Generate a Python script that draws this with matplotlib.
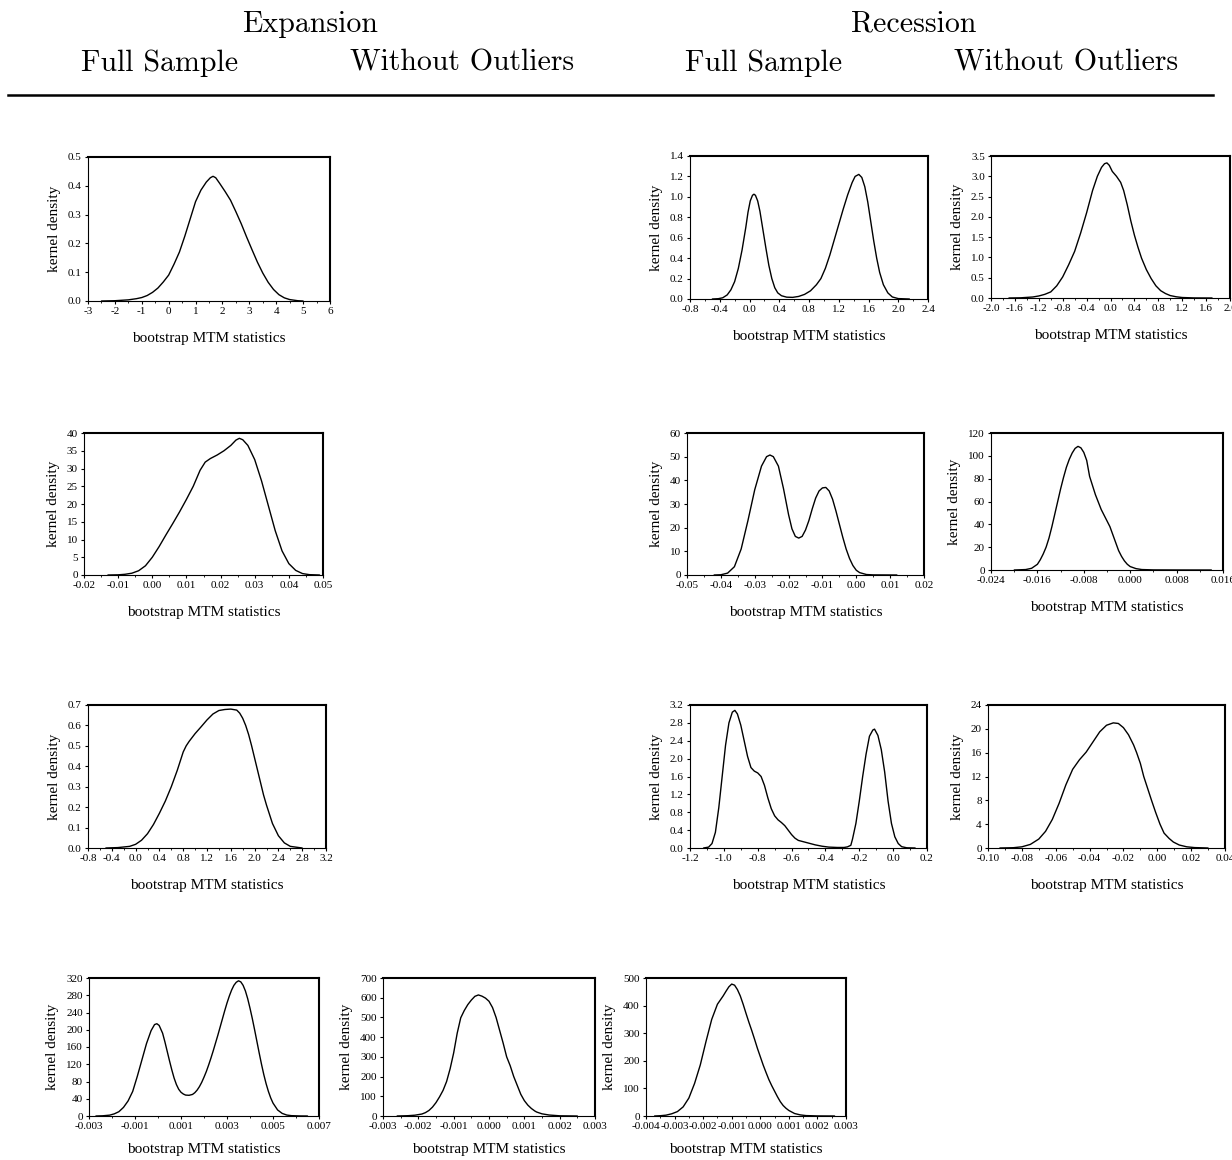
import numpy as np
import matplotlib
matplotlib.use("Agg")
import matplotlib.pyplot as plt

# ---------------- data ----------------
# Expansion, full sample, row 1
a1_x = [-2.5, -2.0, -1.5, -1.2, -1.0, -0.8, -0.6, -0.4, -0.2, 0.0, 0.2, 0.4, 0.6, 0.8, 1.0, 1.2, 1.4,
        1.55, 1.65, 1.75, 1.9, 2.1, 2.3, 2.5, 2.7, 2.9, 3.1, 3.3, 3.5, 3.7, 3.9, 4.1, 4.3, 4.5, 4.8, 5.0]
a1_y = [0.0, 0.001, 0.004, 0.008, 0.012, 0.019, 0.03, 0.045, 0.066, 0.09, 0.128, 0.17, 0.225, 0.285,
        0.345, 0.385, 0.413, 0.428, 0.433, 0.428, 0.408, 0.38, 0.35, 0.31, 0.268, 0.222, 0.178, 0.135,
        0.097, 0.065, 0.04, 0.022, 0.011, 0.005, 0.001, 0.0]
# Recession, full sample, row 1
c1_x = [-0.5, -0.42, -0.36, -0.3, -0.25, -0.2, -0.15, -0.1, -0.05, -0.02, 0.01, 0.04, 0.06, 0.08, 0.11,
        0.14, 0.18, 0.22, 0.26, 0.3, 0.34, 0.38, 0.43, 0.5, 0.58, 0.66, 0.74, 0.82, 0.9, 0.96, 1.02, 1.08,
        1.14, 1.2, 1.26, 1.32, 1.38, 1.42, 1.47, 1.51, 1.55, 1.59, 1.63, 1.67, 1.71, 1.75, 1.8, 1.86, 1.92,
        2.0, 2.15]
c1_y = [0.0, 0.003, 0.012, 0.04, 0.09, 0.17, 0.3, 0.48, 0.7, 0.85, 0.96, 1.015, 1.026, 1.015, 0.96, 0.86,
        0.68, 0.5, 0.33, 0.2, 0.11, 0.06, 0.032, 0.018, 0.016, 0.025, 0.045, 0.08, 0.14, 0.2, 0.3, 0.43,
        0.58, 0.73, 0.88, 1.02, 1.14, 1.2, 1.22, 1.19, 1.1, 0.95, 0.76, 0.57, 0.4, 0.26, 0.14, 0.06, 0.02,
        0.004, 0.0]
# Recession, without outliers, row 1
d1_x = [-1.7, -1.5, -1.3, -1.2, -1.1, -1.0, -0.9, -0.8, -0.7, -0.6, -0.5, -0.4, -0.3, -0.22, -0.15, -0.1,
        -0.06, -0.02, 0.03, 0.1, 0.17, 0.22, 0.28, 0.34, 0.4, 0.46, 0.52, 0.6, 0.68, 0.76, 0.84, 0.92, 1.0,
        1.1, 1.2, 1.4, 1.7]
d1_y = [0.0, 0.005, 0.025, 0.05, 0.09, 0.15, 0.3, 0.52, 0.82, 1.15, 1.6, 2.1, 2.65, 3.0, 3.22, 3.31, 3.33,
        3.27, 3.12, 3.0, 2.85, 2.65, 2.3, 1.9, 1.55, 1.25, 0.98, 0.7, 0.48, 0.3, 0.18, 0.11, 0.06, 0.03,
        0.012, 0.002, 0.0]
# Expansion, full sample, row 2
a2_x = [-0.013, -0.010, -0.008, -0.006, -0.004, -0.002, 0.0, 0.002, 0.004, 0.006, 0.008, 0.010, 0.012,
        0.014, 0.0155, 0.017, 0.019, 0.021, 0.023, 0.0245, 0.0255, 0.0265, 0.028, 0.030, 0.032, 0.034,
        0.036, 0.038, 0.040, 0.042, 0.044, 0.046, 0.049]
a2_y = [0.0, 0.05, 0.2, 0.5, 1.2, 2.6, 5.0, 8.0, 11.3, 14.5, 17.8, 21.3, 25.0, 29.5, 31.8, 32.8, 33.8,
        35.0, 36.5, 38.0, 38.5, 38.1, 36.5, 32.5, 26.5, 19.5, 12.5, 6.8, 3.2, 1.3, 0.4, 0.1, 0.0]
# Recession, full sample, row 2
c2_x = [-0.042, -0.040, -0.038, -0.036, -0.034, -0.032, -0.030, -0.028, -0.0265, -0.0255, -0.0245,
        -0.023, -0.0215, -0.020, -0.019, -0.018, -0.017, -0.016, -0.015, -0.014, -0.013, -0.012, -0.011,
        -0.010, -0.009, -0.008, -0.007, -0.006, -0.005, -0.004, -0.003, -0.002, -0.001, 0.0, 0.001, 0.003,
        0.005, 0.012]
c2_y = [0.0, 0.1, 0.8, 3.5, 11.0, 23.0, 36.0, 46.0, 50.0, 50.7, 50.0, 46.0, 36.5, 25.5, 19.5, 16.3, 15.6,
        16.3, 19.0, 23.0, 28.0, 32.5, 35.5, 36.8, 37.0, 35.5, 32.0, 27.0, 21.5, 16.0, 11.0, 7.0, 4.0, 2.0,
        1.0, 0.2, 0.05, 0.0]
# Recession, without outliers, row 2
d2_x = [-0.020, -0.018, -0.017, -0.016, -0.0155, -0.015, -0.0145, -0.014, -0.0135, -0.013, -0.0125,
        -0.012, -0.0115, -0.011, -0.0105, -0.010, -0.0095, -0.009, -0.0085, -0.008, -0.0075, -0.007,
        -0.006, -0.005, -0.004, -0.0035, -0.003, -0.0025, -0.002, -0.0015, -0.001, -0.0005, 0.0, 0.001,
        0.002, 0.004, 0.008, 0.014]
d2_y = [0.0, 0.4, 1.5, 5.0, 9.0, 14.0, 20.0, 28.0, 38.0, 49.0, 60.0, 71.0, 81.0, 90.0, 97.0, 102.5,
        106.5, 108.3, 107.0, 103.0, 96.0, 82.0, 66.0, 53.0, 43.0, 38.0, 31.0, 24.0, 17.0, 12.0, 8.0, 5.0,
        3.0, 1.2, 0.4, 0.1, 0.03, 0.0]
# Expansion, full sample, row 3
a3_x = [-0.5, -0.3, -0.1, 0.0, 0.1, 0.2, 0.3, 0.4, 0.5, 0.6, 0.7, 0.8, 0.85, 0.9, 1.0, 1.1, 1.2, 1.3, 1.4,
        1.5, 1.6, 1.7, 1.75, 1.8, 1.85, 1.9, 1.95, 2.0, 2.05, 2.1, 2.15, 2.2, 2.25, 2.3, 2.4, 2.5, 2.6, 2.8]
a3_y = [0.0, 0.002, 0.008, 0.018, 0.038, 0.07, 0.115, 0.17, 0.23, 0.30, 0.38, 0.47, 0.50, 0.522, 0.56,
        0.593, 0.627, 0.656, 0.673, 0.678, 0.68, 0.675, 0.66, 0.635, 0.60, 0.555, 0.50, 0.44, 0.38, 0.32,
        0.26, 0.21, 0.165, 0.12, 0.06, 0.025, 0.008, 0.0]
# Recession, full sample, row 3
c3_x = [-1.12, -1.09, -1.07, -1.05, -1.03, -1.01, -0.99, -0.97, -0.95, -0.935, -0.92, -0.90, -0.88, -0.86,
        -0.84, -0.82, -0.80, -0.78, -0.76, -0.74, -0.72, -0.70, -0.68, -0.66, -0.64, -0.62, -0.60, -0.58,
        -0.56, -0.53, -0.50, -0.46, -0.42, -0.38, -0.33, -0.29, -0.27, -0.25, -0.24, -0.22, -0.20, -0.18,
        -0.16, -0.14, -0.12, -0.11, -0.09, -0.07, -0.05, -0.03, -0.01, 0.01, 0.03, 0.05, 0.08, 0.13]
c3_y = [0.0, 0.02, 0.1, 0.35, 0.9, 1.6, 2.3, 2.8, 3.04, 3.08, 3.0, 2.75, 2.4, 2.05, 1.8, 1.72, 1.68, 1.6,
        1.4, 1.12, 0.88, 0.72, 0.63, 0.57, 0.5, 0.4, 0.3, 0.22, 0.17, 0.14, 0.11, 0.07, 0.04, 0.02, 0.012,
        0.012, 0.025, 0.06, 0.2, 0.55, 1.05, 1.6, 2.1, 2.5, 2.64, 2.66, 2.52, 2.2, 1.7, 1.05, 0.55, 0.25,
        0.1, 0.03, 0.005, 0.0]
# Recession, without outliers, row 3
d3_x = [-0.093, -0.085, -0.08, -0.075, -0.07, -0.066, -0.062, -0.058, -0.054, -0.05, -0.046, -0.042,
        -0.038, -0.034, -0.030, -0.026, -0.023, -0.020, -0.017, -0.014, -0.0122, -0.010, -0.008, -0.0057,
        -0.0034, -0.001, 0.0016, 0.004, 0.007, 0.0095, 0.013, 0.0174, 0.022, 0.03]
d3_y = [0.0, 0.05, 0.2, 0.6, 1.5, 2.8, 4.8, 7.5, 10.6, 13.2, 14.8, 16.1, 17.8, 19.5, 20.6, 21.0, 20.9,
        20.2, 19.0, 17.3, 16.0, 14.2, 12.0, 10.0, 8.0, 6.0, 4.0, 2.5, 1.6, 1.0, 0.5, 0.2, 0.07, 0.0]
# Expansion, full sample, row 4
a4_x = [-0.0027, -0.0024, -0.0021, -0.0019, -0.0017, -0.0015, -0.0013, -0.0011, -0.0009, -0.0007,
        -0.0005, -0.0003, -0.00015, -0.00005, 0.00005, 0.0002, 0.0003, 0.0004, 0.0005, 0.0006, 0.0007,
        0.0008, 0.0009, 0.0010, 0.0011, 0.0012, 0.00135, 0.0015, 0.0016, 0.0017, 0.0018, 0.0019, 0.0020,
        0.0021, 0.0022, 0.0023, 0.0024, 0.0025, 0.0026, 0.0027, 0.0028, 0.0029, 0.0030, 0.0031, 0.0032,
        0.0033, 0.0034, 0.0035, 0.0036, 0.0037, 0.0038, 0.0039, 0.0040, 0.0041, 0.0042, 0.0043, 0.0044,
        0.0045, 0.0046, 0.0047, 0.0048, 0.0049, 0.0050, 0.0052, 0.0054, 0.0056, 0.0058, 0.0062, 0.0065]
a4_y = [0, 0.5, 2, 5, 10, 20, 35, 57, 92, 130, 168, 198, 212, 214, 210, 192, 172, 150, 128, 107, 88, 73,
        62, 55, 51, 48.5, 48, 50, 54, 60, 68, 78, 90, 103, 118, 134, 151, 169, 187, 206, 225, 244, 262,
        278, 292, 303, 310, 313.5, 311, 303, 290, 272, 250, 226, 200, 173, 146, 120, 96, 75, 57, 42, 30,
        14, 6, 2.2, 0.8, 0.1, 0]
# Expansion, without outliers, row 4
b4_x = [-0.0026, -0.0023, -0.0021, -0.0019, -0.0018, -0.0017, -0.0016, -0.0015, -0.0014, -0.0013,
        -0.0012, -0.0011, -0.0010, -0.0009, -0.0008, -0.0007, -0.0006, -0.0005, -0.0004, -0.0003, -0.0002,
        -0.0001, 0.0, 0.0001, 0.0002, 0.0003, 0.0004, 0.0005, 0.0006, 0.0007, 0.0008, 0.0009, 0.0010,
        0.0011, 0.0012, 0.0013, 0.00135, 0.0015, 0.0017, 0.0020, 0.0025]
b4_y = [0, 1.5, 4, 10, 17, 28, 45, 68, 97, 130, 175, 240, 320, 420, 498, 535, 565, 588, 607, 614, 608,
        598, 582, 550, 500, 435, 370, 300, 255, 200, 155, 110, 78, 55, 38, 25, 20, 11, 5, 1, 0]
# Recession, full sample, row 4
c4_x = [-0.0037, -0.0035, -0.0033, -0.0031, -0.0029, -0.0027, -0.0025, -0.0023, -0.0021, -0.0019,
        -0.0017, -0.0015, -0.0013, -0.0012, -0.0011, -0.0010, -0.0009, -0.0008, -0.0007, -0.0006, -0.0005,
        -0.0004, -0.0003, -0.0002, -0.0001, 0.0, 0.0001, 0.0002, 0.0003, 0.0004, 0.0005, 0.0006, 0.0007,
        0.0008, 0.0009, 0.0010, 0.0012, 0.0014, 0.0016, 0.0020, 0.0026]
c4_y = [0, 1, 3, 8, 16, 33, 65, 118, 185, 270, 350, 405, 435, 452, 468, 478, 474, 458, 435, 405, 372,
        340, 310, 278, 245, 215, 185, 158, 132, 110, 90, 70, 52, 38, 28, 20, 9, 4, 1.5, 0.3, 0]

# tick labels
a1_xt = ["-3", "-2", "-1", "0", "1", "2", "3", "4", "5", "6"]
a1_yt = ["0.0", "0.1", "0.2", "0.3", "0.4", "0.5"]
c1_xt = ["-0.8", "-0.4", "0.0", "0.4", "0.8", "1.2", "1.6", "2.0", "2.4"]
c1_yt = ["0.0", "0.2", "0.4", "0.6", "0.8", "1.0", "1.2", "1.4"]
d1_xt = ["-2.0", "-1.6", "-1.2", "-0.8", "-0.4", "0.0", "0.4", "0.8", "1.2", "1.6", "2.0"]
d1_yt = ["0.0", "0.5", "1.0", "1.5", "2.0", "2.5", "3.0", "3.5"]
a2_xt = ["-0.02", "-0.01", "0.00", "0.01", "0.02", "0.03", "0.04", "0.05"]
a2_yt = ["0", "5", "10", "15", "20", "25", "30", "35", "40"]
c2_xt = ["-0.05", "-0.04", "-0.03", "-0.02", "-0.01", "0.00", "0.01", "0.02"]
c2_yt = ["0", "10", "20", "30", "40", "50", "60"]
d2_xt = ["-0.024", "-0.016", "-0.008", "0.000", "0.008", "0.016"]
d2_yt = ["0", "20", "40", "60", "80", "100", "120"]
a3_xt = ["-0.8", "-0.4", "0.0", "0.4", "0.8", "1.2", "1.6", "2.0", "2.4", "2.8", "3.2"]
a3_yt = ["0.0", "0.1", "0.2", "0.3", "0.4", "0.5", "0.6", "0.7"]
c3_xt = ["-1.2", "-1.0", "-0.8", "-0.6", "-0.4", "-0.2", "0.0", "0.2"]
c3_yt = ["0.0", "0.4", "0.8", "1.2", "1.6", "2.0", "2.4", "2.8", "3.2"]
d3_xt = ["-0.10", "-0.08", "-0.06", "-0.04", "-0.02", "0.00", "0.02", "0.04"]
d3_yt = ["0", "4", "8", "12", "16", "20", "24"]
a4_xt = ["-0.003", "-0.001", "0.001", "0.003", "0.005", "0.007"]
a4_yt = ["0", "40", "80", "120", "160", "200", "240", "280", "320"]
b4_xt = ["-0.003", "-0.002", "-0.001", "0.000", "0.001", "0.002", "0.003"]
b4_yt = ["0", "100", "200", "300", "400", "500", "600", "700"]
c4_xt = ["-0.004", "-0.003", "-0.002", "-0.001", "0.000", "0.001", "0.002", "0.003"]
c4_yt = ["0", "100", "200", "300", "400", "500"]

group_titles = ["Expansion", "Recession"]
column_titles = ["Full Sample", "Without Outliers", "Full Sample", "Without Outliers"]
x_label = "bootstrap MTM statistics"
y_label = "kernel density"

# ---------------- figure ----------------
W, H = 1232, 1160
fig = plt.figure(figsize=(W / 100, H / 100), dpi=100)

def box(l, t, r, b):
    return [l / W, 1 - b / H, (r - l) / W, (b - t) / H]

TF = "Liberation Serif"
HF = "cmr10"

# (axes box in pixels, x, y, x tick labels, y tick labels, xlabel pad)
panels = [
    ((88, 157, 330, 301), a1_x, a1_y, a1_xt, a1_yt, 11),
    ((690, 156, 928, 299), c1_x, c1_y, c1_xt, c1_yt, 11),
    ((991, 156, 1230, 298), d1_x, d1_y, d1_xt, d1_yt, 11),
    ((84, 433, 323, 575), a2_x, a2_y, a2_xt, a2_yt, 11),
    ((687, 433, 924, 575), c2_x, c2_y, c2_xt, c2_yt, 11),
    ((991, 433, 1223, 570), d2_x, d2_y, d2_xt, d2_yt, 11),
    ((88, 705, 326, 848), a3_x, a3_y, a3_xt, a3_yt, 11),
    ((690, 705, 927, 848), c3_x, c3_y, c3_xt, c3_yt, 11),
    ((988, 705, 1225, 848), d3_x, d3_y, d3_xt, d3_yt, 11),
    ((89, 978, 319, 1116), a4_x, a4_y, a4_xt, a4_yt, 8.5),
    ((383, 978, 595, 1116), b4_x, b4_y, b4_xt, b4_yt, 8.5),
    ((646, 978, 846, 1116), c4_x, c4_y, c4_xt, c4_yt, 8.5),
]

for (pos, xs, ys, xt, yt, lp) in panels:
    ax = fig.add_axes(box(*pos))
    ax.plot(xs, ys, color="black", lw=1.0, solid_joinstyle="round", solid_capstyle="round")
    xv = [float(v) for v in xt]
    yv = [float(v) for v in yt]
    ax.set_xlim(xv[0], xv[-1])
    ax.set_ylim(yv[0], yv[-1])
    ax.set_xticks(xv)
    ax.set_xticklabels(xt, fontfamily=TF, fontsize=8)
    ax.set_yticks(yv)
    ax.set_yticklabels(yt, fontfamily=TF, fontsize=8)
    mids = [(xv[i] + xv[i + 1]) / 2 for i in range(len(xv) - 1)]
    ax.set_xticks(mids, minor=True)
    ax.tick_params(axis="both", which="major", direction="out", length=2.5, width=0.8, pad=2)
    ax.tick_params(axis="x", which="minor", direction="out", length=1.5, width=0.6)
    ax.set_xlabel(x_label, fontfamily=TF, fontsize=11, labelpad=lp)
    ax.set_ylabel(y_label, fontfamily=TF, fontsize=11, labelpad=5)
    for s in ["left", "bottom"]:
        ax.spines[s].set_linewidth(0.8)
    for s in ["top", "right"]:
        ax.spines[s].set_linewidth(1.5)

# header
fig.text(310 / W, 1 - 24 / H, group_titles[0], fontfamily=HF, fontsize=21.5, ha="center", va="center")
fig.text(914 / W, 1 - 24 / H, group_titles[1], fontfamily=HF, fontsize=21.5, ha="center", va="center")
for xc, t in zip([160, 462, 764, 1066], column_titles):
    fig.text(xc / W, 1 - 63 / H, t, fontfamily=HF, fontsize=21.5, ha="center", va="center")
fig.add_artist(plt.Line2D([8 / W, 1213 / W], [1 - 95 / H, 1 - 95 / H], color="black", lw=1.8,
                          transform=fig.transFigure))

fig.savefig("out.png", dpi=100)
